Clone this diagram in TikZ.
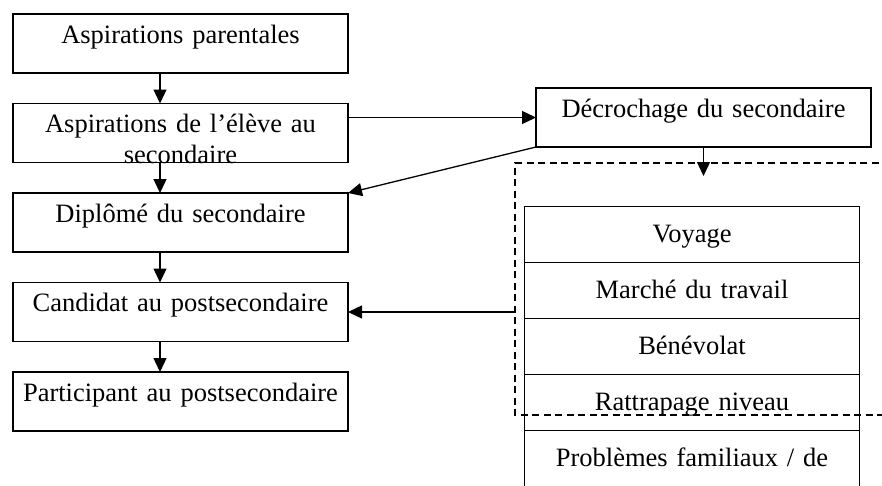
\documentclass[tikz,border=0pt]{standalone}
\usepackage{fontspec}
\setmainfont{Liberation Serif}
\usetikzlibrary{arrows.meta,positioning}

\begin{document}
\begin{tikzpicture}[x=1pt, y=1pt, node distance=30.5pt,
  >={Triangle[length=14pt,width=13pt]},
  every node/.style={font=\fontsize{26.5}{30.5}\selectfont},
  etape/.style={draw, line width=1.3pt, text width=335pt, align=center, inner sep=0pt, outer sep=0pt, text height=29pt, text depth=30pt},
  raison/.style={draw, line width=1.3pt, text width=335pt, align=center, inner sep=0pt, outer sep=0pt, text height=36pt, text depth=20pt},
  fleche/.style={->, line width=1.3pt},
  zone/.style={line width=1.3pt, dash pattern=on 7pt off 4.5pt}]
\useasboundingbox (0,0) rectangle (882,-485);

% Parcours scolaire
\node[etape, anchor=north west] (parents) at (13,-14) {Aspirations parentales};
\node[etape, below=of parents] (eleve) {Aspirations de l’élève au\\secondaire};
\node[etape, below=of eleve] (diplome) {Diplômé du secondaire};
\node[etape, below=of diplome] (candidat) {Candidat au postsecondaire};
\node[etape, below=of candidat] (participant) {Participant au postsecondaire};

% Decrochage
\node[etape, anchor=north west] (decrochage) at (536,-88) {Décrochage du secondaire};

% Raisons
\node[raison, anchor=north west] (voyage) at (524.5,-206.5) {Voyage};
\node[raison, below=0pt of voyage] (travail) {Marché du travail};
\node[raison, below=0pt of travail] (benevolat) {Bénévolat};
\node[raison, below=0pt of benevolat] (rattrapage) {Rattrapage niveau};
\node[raison, below=0pt of rattrapage, text depth=60pt] (famille) {Problèmes familiaux / de};

% Zone pointillee
\coordinate (zone) at (515,-163);
\coordinate (zonebas) at (515,-415);
\draw[zone] (890,-163) -- (zone) -- (zonebas) -- (890,-415);
\coordinate (retour) at (zone |- candidat.east);
\coordinate (decroche) at ([yshift=-29pt]decrochage.south);

% Fleches
\draw[fleche] ([xshift=-20.5pt]parents.south) -- ([xshift=-20.5pt]eleve.north);
\draw[fleche] ([xshift=-20.5pt]eleve.south) -- ([xshift=-20.5pt]diplome.north);
\draw[fleche] ([xshift=-20.5pt]diplome.south) -- ([xshift=-20.5pt]candidat.north);
\draw[fleche] ([xshift=-20.5pt]candidat.south) -- ([xshift=-20.5pt]participant.north);
\draw[fleche] (eleve.east |- decrochage.west) -- (decrochage.west);
\draw[fleche] (decrochage.south west) -- (diplome.north east);
\draw[fleche] (decrochage.south) -- (decroche);
\draw[fleche] (retour) -- (candidat.east);
\end{tikzpicture}
\end{document}
